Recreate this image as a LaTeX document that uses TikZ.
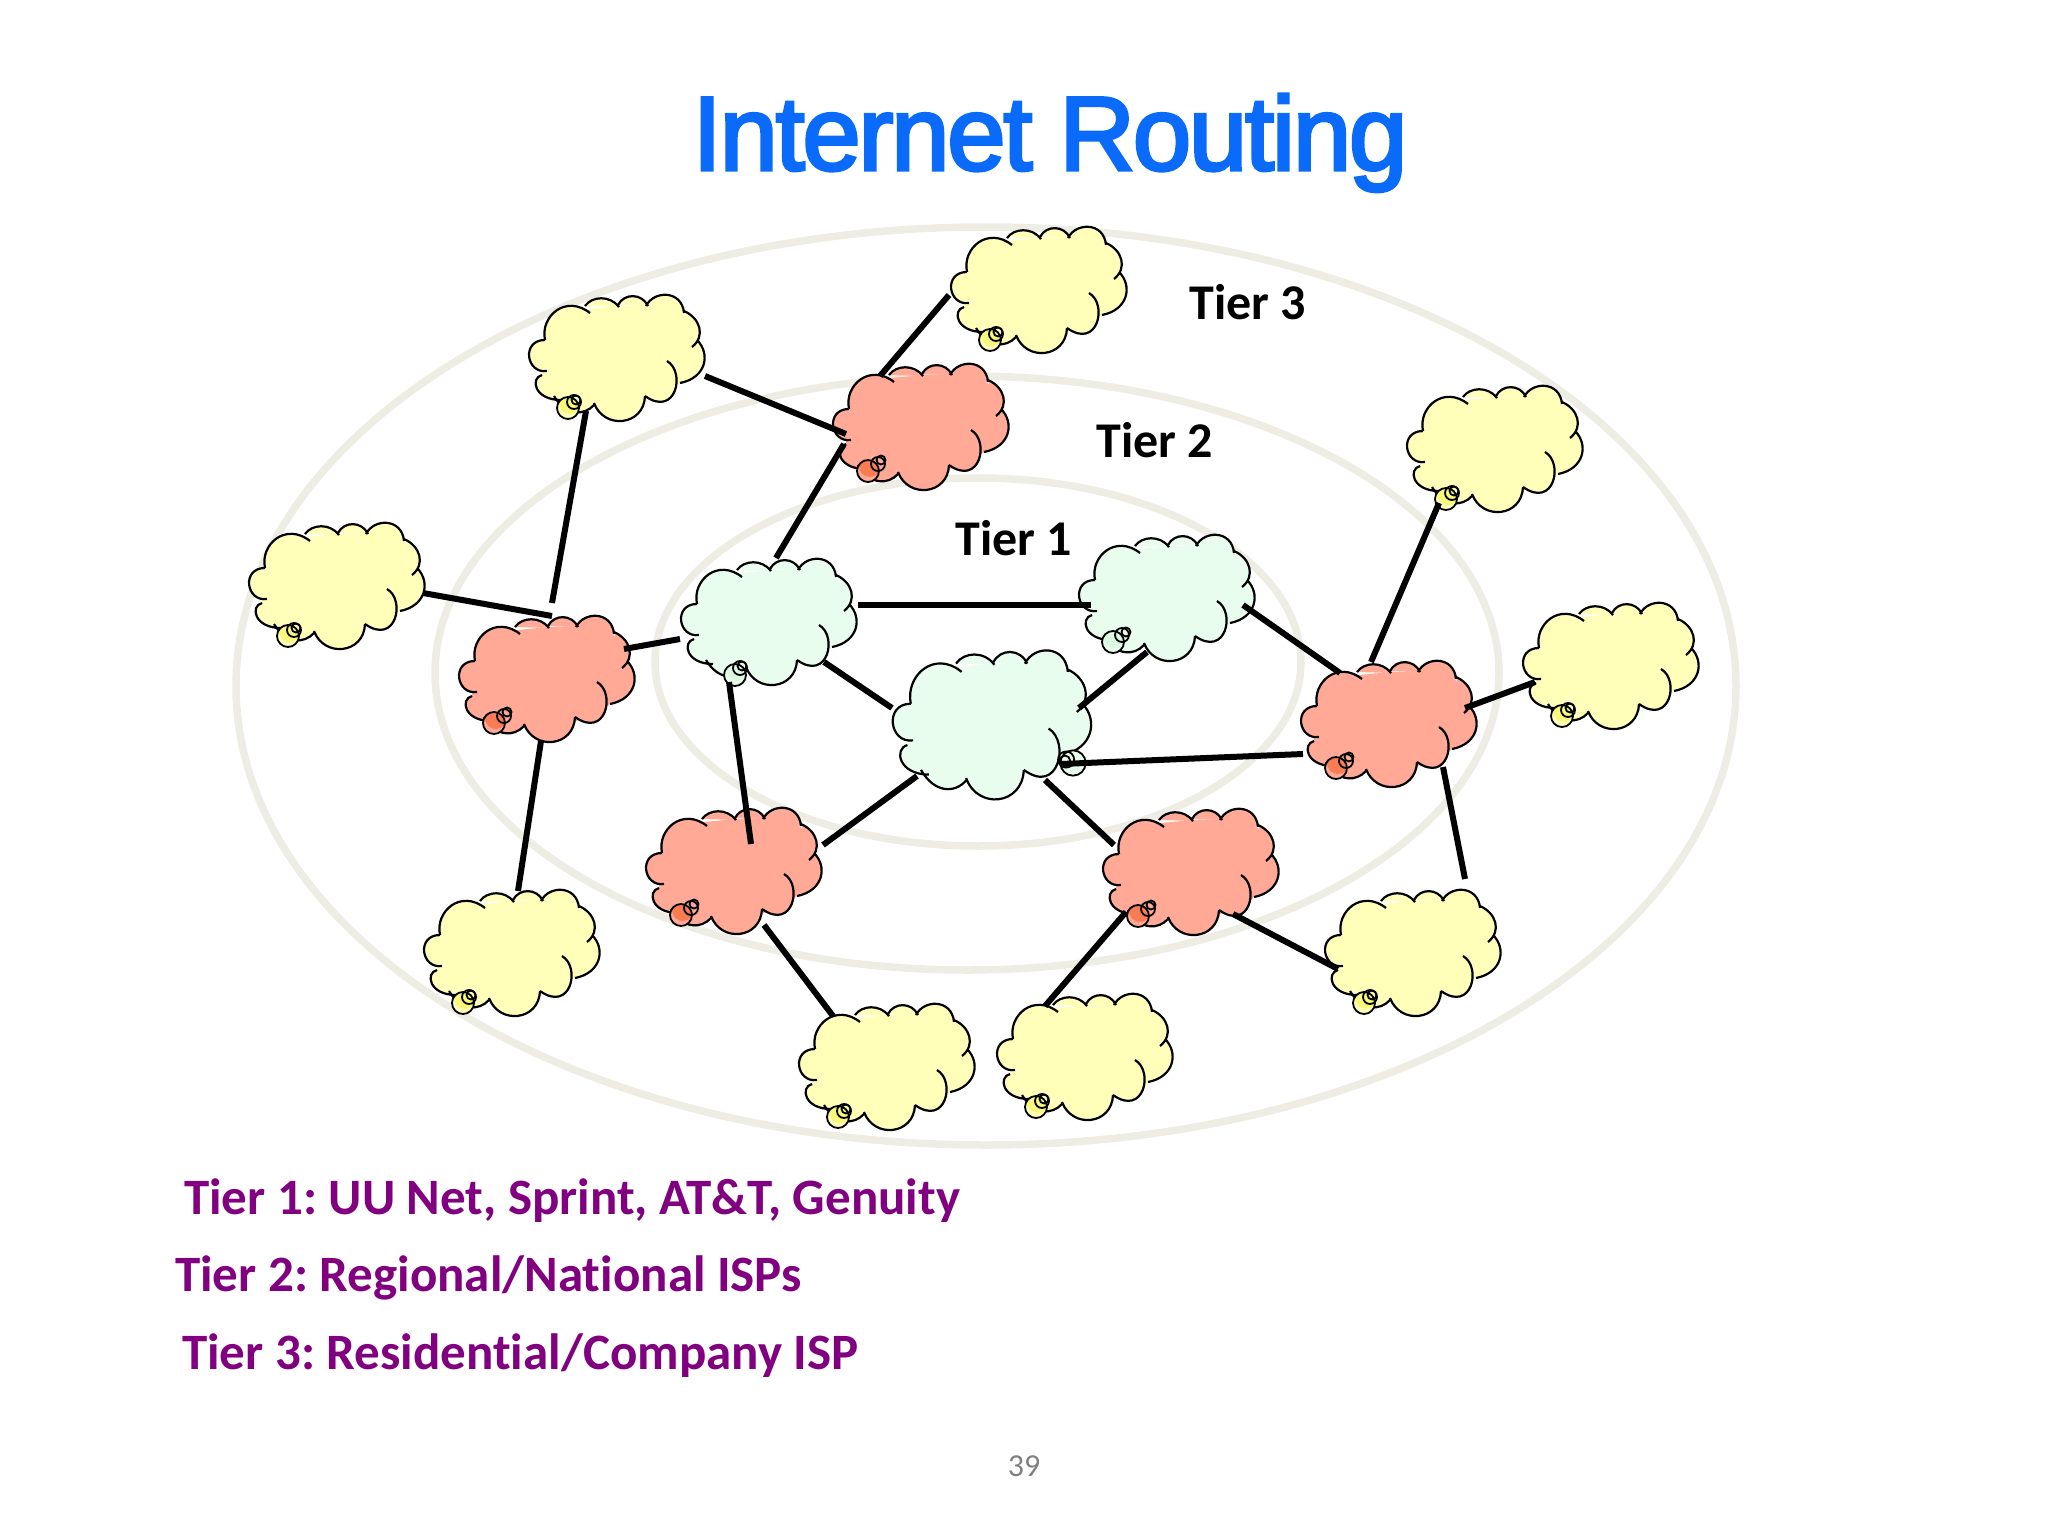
\documentclass[tikz,border=0pt]{standalone}
\usepackage{fontspec}
\setmainfont[Ligatures=NoCommon]{Carlito}
\newfontfamily\titlefont[FakeBold=3,LetterSpace=-2.2]{Liberation Sans}
\definecolor{tierone}{HTML}{E8FDEE}
\definecolor{tiertwo}{HTML}{FFA996}
\definecolor{tierthree}{HTML}{FFFFB9}
\definecolor{bubbleone}{HTML}{DDF8E2}
\definecolor{bubbletwo}{HTML}{F97C52}
\definecolor{bubblethree}{HTML}{F8F87A}
\definecolor{ringline}{HTML}{EDEDE4}
\definecolor{titleblue}{HTML}{0A6BFA}
\definecolor{legendpurple}{HTML}{800080}
\def\cloudarcs{(-71,-18) .. controls (-76,-42) and (-50,-64) .. (-26,-45)
  (-31,-52) .. controls (-24,-62) and (-6,-63) .. (3,-51)
  (2,-53) .. controls (8,-65) and (26,-65) .. (32,-52)
  (30,-52) .. controls (38,-68) and (66,-68) .. (68,-45)
  (68,-47) .. controls (84,-40) and (90,-22) .. (76,-11)
  (81,-18) .. controls (95,-4) and (90,20) .. (64,25)
  (51,3) .. controls (70,14) and (60,60) .. (29,38)
  (29,38) .. controls (28,68) and (-12,72) .. (-22,45)
  (-22,47) .. controls (-32,58) and (-50,58) .. (-62,38)
  (-74,17) .. controls (-86,20) and (-82,42) .. (-55,42)
  (-69,13) .. controls (-90,16) and (-95,-18) .. (-71,-18)}
\tikzset{
  ring/.style={draw=ringline,line width=7.5pt},
  tierlink/.style={draw=black,line width=6pt},
  tierlabel/.style={font=\fontsize{50}{50}\selectfont\bfseries,inner sep=0pt},
  legend/.style={font=\frenchspacing\fontsize{51}{51}\selectfont\bfseries,text=legendpurple,anchor=base west,inner sep=0pt},
  bubble/.style={draw=black,line width=1.8pt},
  pics/netcloud/.style={code={
    \fill[#1] (-71,-18) -- (-60,-40) -- (-29,-49) -- (3,-52) -- (32,-53) -- (60,-50) -- (72,-40) -- (80,-18) -- (80,0) -- (64,25) -- (45,40) -- (29,42) -- (0,55) -- (-22,47) -- (-55,42) -- (-74,28) -- (-74,13) -- (-80,0) -- cycle;
    \filldraw[fill=#1,draw=black,line width=2.2pt] \cloudarcs;
  }},
  pics/netbubble/.style n args={6}{code={
    \fill[#1] (0,0) circle (11);
    \begin{scope}
      \clip (0,0) circle (11);
      \fill[#2] (2,-5) circle (11);
    \end{scope}
    \draw[bubble] (0,0) circle (11);
    \draw[bubble] (#3,#4) circle (7);
    \draw[bubble] (#5,#6) circle (4.5);
  }}
}
\begin{document}
\begin{tikzpicture}[x=1pt,y=-1pt]
  \useasboundingbox (0,0) rectangle (2048,1536);
  \draw[ring] (986,686) ellipse (750 and 459);
  \draw[ring] (967,673) ellipse (532 and 297);
  \draw[ring] (978,662) ellipse (323 and 184);
  % clouds of the three tiers
  \foreach \n/\x/\y in {yt/1038/290,yl/616/358,yr/1494/449,ya/336/586,yf/1610/666,yb/511/953,yc/1412/953,yd/886/1067,ye/1084/1057} {
    \pic (\n) at (\x,\y) {netcloud=tierthree};
    \pic at (\x-48,\y+50) {netbubble={tierthree}{bubblethree}{6}{-6}{8}{-8}};
  }
  \foreach \n/\x/\y in {pt/920/427,pl/546/679,pr/1388/724,pb/733/871,pc/1190/872} {
    \pic (\n) at (\x,\y) {netcloud=tiertwo};
    \pic at (\x-52,\y+44) {netbubble={tiertwo}{bubbletwo}{10}{-7}{13}{-11}};
  }
  \pic (gl) at (768,622) {netcloud=tierone};
  \pic at (735,675) {netbubble={tierone}{bubbleone}{5}{-7}{7}{-9}};
  \pic (gr) at (1166,598) {netcloud=tierone};
  \pic at (1113,642) {netbubble={tierone}{bubbleone}{9}{-7}{13}{-10}};
  \pic[xscale=1.13,yscale=1.18] (gc) at (991,725) {netcloud=tierone};
  \pic[scale=1.15] at (1073,763) {netbubble={tierone}{tierone}{-6}{-3}{-7}{-2}};
  % links between clouds
  \foreach \i/\ax/\ay/\bx/\by in {1/949/295/880/376,2/705/376/846/434,3/844/444/776/558,4/586/411/552/603,
    5/423/593/552/616,6/624/649/680/639,7/541/741/518/891,8/858/605/1091/605,9/824/662/892/708,
    10/729/682/751/844,11/1147/652/1079/708,12/1243/605/1340/673,13/1061/764/1303/754,14/917/776/823/845,
    15/1045/780/1114/845,16/1371/662/1439/503,17/1465/708/1535/682,18/1443/767/1465/879,19/1233/914/1338/969,
    20/1126/912/1045/1006,21/764/925/833/1016} {
    \coordinate (a\i) at (\ax,\ay);
    \coordinate (b\i) at (\bx,\by);
    \draw[tierlink] (a\i) -- (b\i);
  }
  \node[font=\titlefont\fontsize{105}{105}\selectfont,text=titleblue,anchor=base,inner sep=0pt] (title) at (1050,170) {Internet Routing};
  \node[tierlabel] (tier3) at (1248,302) {Tier 3};
  \node[tierlabel] (tier2) at (1155,440) {Tier 2};
  \node[tierlabel] (tier1) at (1014,538) {Tier 1};
  \node[legend] (leg1) at (184,1214) {Tier 1: UU Net, Sprint, AT\&T, Genuity};
  \node[legend] (leg2) at (175,1291) {Tier 2: Regional/National ISPs};
  \node[legend] (leg3) at (182,1369) {Tier 3: Residential/Company ISP};
  \node[font=\fontsize{32}{32}\selectfont,text=gray,inner sep=0pt] (page) at (1024,1466) {39};
\end{tikzpicture}
\end{document}
